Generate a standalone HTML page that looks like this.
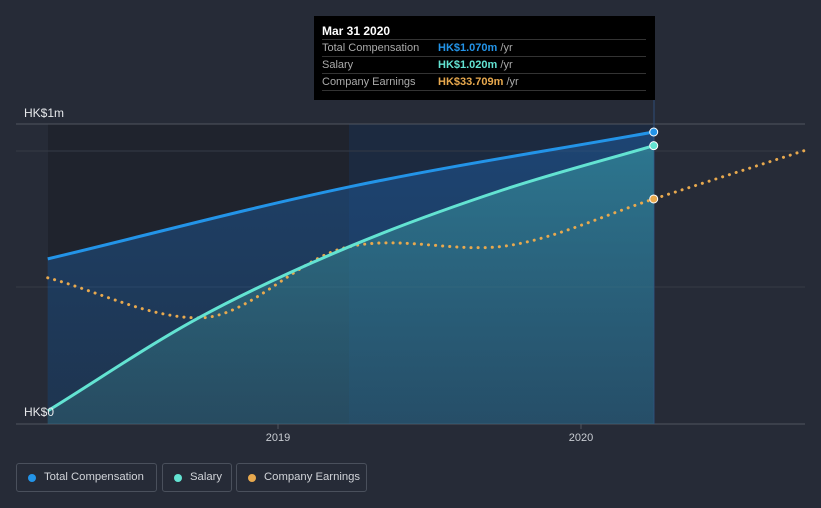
<!DOCTYPE html>
<html><head><meta charset="utf-8"><style>
body{margin:0;background:#262b37;font-family:"Liberation Sans",sans-serif;}
.leg{position:absolute;top:463px;height:29px;border:1px solid #4a505c;border-radius:3px;color:#d0d3d8;font-size:11.3px;line-height:27px;padding:0 0 0 27px;box-sizing:border-box;white-space:nowrap}
.leg i{position:absolute;left:11px;top:10px;width:8px;height:8px;border-radius:50%}
</style></head><body>
<div style="position:relative;width:821px;height:508px;overflow:hidden">
<svg id="c" width="821" height="508" style="position:absolute;left:0;top:0">
<defs>
<linearGradient id="gt" x1="0" y1="0" x2="0" y2="1"><stop offset="0" stop-color="#1e5a9c" stop-opacity="0.55"/><stop offset="1" stop-color="#1e4a7a" stop-opacity="0.45"/></linearGradient>
<linearGradient id="gs" x1="0" y1="0" x2="0" y2="1"><stop offset="0" stop-color="#3aa0a8" stop-opacity="0.55"/><stop offset="1" stop-color="#3a8088" stop-opacity="0.3"/></linearGradient>
</defs>
<rect x="48" y="124" width="301" height="300" fill="#1f232d"/>
<rect x="349" y="124" width="305" height="300" fill="#1c2a40"/>
<line x1="16" x2="805" y1="124" y2="124" stroke="#50565f"/>
<line x1="16" x2="805" y1="151" y2="151" stroke="#353b46"/>
<line x1="16" x2="805" y1="287" y2="287" stroke="#353b46"/>
<line x1="16" x2="805" y1="424" y2="424" stroke="#50565f"/>
<line x1="654" x2="654" y1="100" y2="424" stroke="#2e4d78"/>
<text x="24" y="117" fill="#e6e8eb" font-size="12">HK$1m</text>
<g id="marks"></g>
<text x="24" y="416" fill="#e6e8eb" font-size="12">HK$0</text>
<g id="ticks"></g>
</svg>
<div style="position:absolute;left:314px;top:16px;width:341px;height:84px;background:#000">
<div style="position:absolute;left:8px;top:8px;color:#fff;font-weight:bold;font-size:12px">Mar 31 2020</div>
<div style="position:absolute;left:8px;top:23px;width:324px;border-top:1px solid #333"></div>
<div style="position:absolute;left:8px;top:40px;width:324px;border-top:1px solid #333"></div>
<div style="position:absolute;left:8px;top:57px;width:324px;border-top:1px solid #333"></div>
<div style="position:absolute;left:8px;top:74px;width:324px;border-top:1px solid #333"></div>
<div style="position:absolute;left:8px;top:26px;font-size:11px;color:#aaa">Total Compensation</div>
<div style="position:absolute;left:124px;top:26px;font-size:11px;color:#aaa"><b style="color:#2394e8">HK$1.070m</b> /yr</div>
<div style="position:absolute;left:8px;top:43px;font-size:11px;color:#aaa">Salary</div>
<div style="position:absolute;left:124px;top:43px;font-size:11px;color:#aaa"><b style="color:#63e3d2">HK$1.020m</b> /yr</div>
<div style="position:absolute;left:8px;top:60px;font-size:11px;color:#aaa">Company Earnings</div>
<div style="position:absolute;left:124px;top:60px;font-size:11px;color:#aaa"><b style="color:#e8a94e">HK$33.709m</b> /yr</div>
</div>
<div class="leg" style="left:16px;width:141px"><i style="background:#2394e8"></i>Total Compensation</div>
<div class="leg" style="left:162px;width:70px"><i style="background:#63e3d2"></i>Salary</div>
<div class="leg" style="left:236px;width:131px"><i style="background:#e8a94e"></i>Company Earnings</div>
</div>
<script>
const compDates=[2018.24,2019.24,2020.24];
const totalComp=[0.605,0.87,1.07];
const salDates=[2018.24,2018.74,2019.24,2019.74,2020.24];
const salary=[0.048,0.39,0.652,0.857,1.02];
const earnDates=[2018.24,2018.74,2019.22,2019.77,2020.24,2020.74];
const earnings=[21.9,15.9,26.4,26.8,33.709,41.0];
const xTicks=[2019,2020];
const X=t=>278+(t-2019)*303;
const Y=v=>424-v*272.9;
const YE=v=>424-v*6.675;
function path(xs,ys){const n=xs.length,d=[],m=[];
 for(let i=0;i<n-1;i++)d.push((ys[i+1]-ys[i])/(xs[i+1]-xs[i]));
 m[0]=d[0];m[n-1]=d[n-2];
 for(let i=1;i<n-1;i++)m[i]=(d[i-1]*d[i]<=0)?0:(d[i-1]+d[i])/2;
 let s='M'+xs[0]+','+ys[0];
 for(let i=0;i<n-1;i++){const h=(xs[i+1]-xs[i])/3;
  s+=` C${xs[i]+h},${ys[i]+m[i]*h} ${xs[i+1]-h},${ys[i+1]-m[i+1]*h} ${xs[i+1]},${ys[i+1]}`;}
 return s;}
const NS='http://www.w3.org/2000/svg',g=document.getElementById('marks');
function mk(tag,at){const e=document.createElementNS(NS,tag);for(const k in at)e.setAttribute(k,at[k]);g.appendChild(e);return e;}
const tp=path(compDates.map(X),totalComp.map(Y)),sp=path(salDates.map(X),salary.map(Y));
const x0=X(compDates[0]),x1=X(compDates[compDates.length-1]);
let e=mk('path',{d:tp+` L${x1},424 L${x0},424 Z`,fill:'url(#gt)'});


e=mk('path',{d:sp+` L${X(salDates[salDates.length-1])},424 L${X(salDates[0])},424 Z`,fill:'url(#gs)'});


e=mk('path',{d:path(earnDates.map(X),earnings.map(YE)),fill:'none',stroke:'#e8a94e','stroke-width':3,'stroke-dasharray':'0.1 7','stroke-linecap':'round'});


e=mk('path',{d:tp,fill:'none',stroke:'#2394e8','stroke-width':3});


e=mk('path',{d:sp,fill:'none',stroke:'#63e3d2','stroke-width':3});


const li=compDates.length-1,si=salDates.length-1,ei=4;
e=mk('circle',{cx:X(compDates[li]),cy:Y(totalComp[li]),r:4,fill:'#2394e8',stroke:'#fff','stroke-width':1});


e=mk('circle',{cx:X(salDates[si]),cy:Y(salary[si]),r:4,fill:'#63e3d2',stroke:'#fff','stroke-width':1});


e=mk('circle',{cx:X(earnDates[ei]),cy:YE(earnings[ei]),r:4,fill:'#e8a94e',stroke:'#fff','stroke-width':1});


const tg=document.getElementById('ticks');
xTicks.forEach(t=>{const l=document.createElementNS(NS,'line');l.setAttribute('x1',X(t));l.setAttribute('x2',X(t));l.setAttribute('y1',424);l.setAttribute('y2',429);l.setAttribute('stroke','#50565f');


tg.appendChild(l);
const s=document.createElementNS(NS,'text');s.setAttribute('x',X(t));s.setAttribute('y',441);s.setAttribute('fill','#c8ccd2');s.setAttribute('font-size','11');s.setAttribute('text-anchor','middle');s.textContent=t;


tg.appendChild(s);});
</script>
</body></html>
